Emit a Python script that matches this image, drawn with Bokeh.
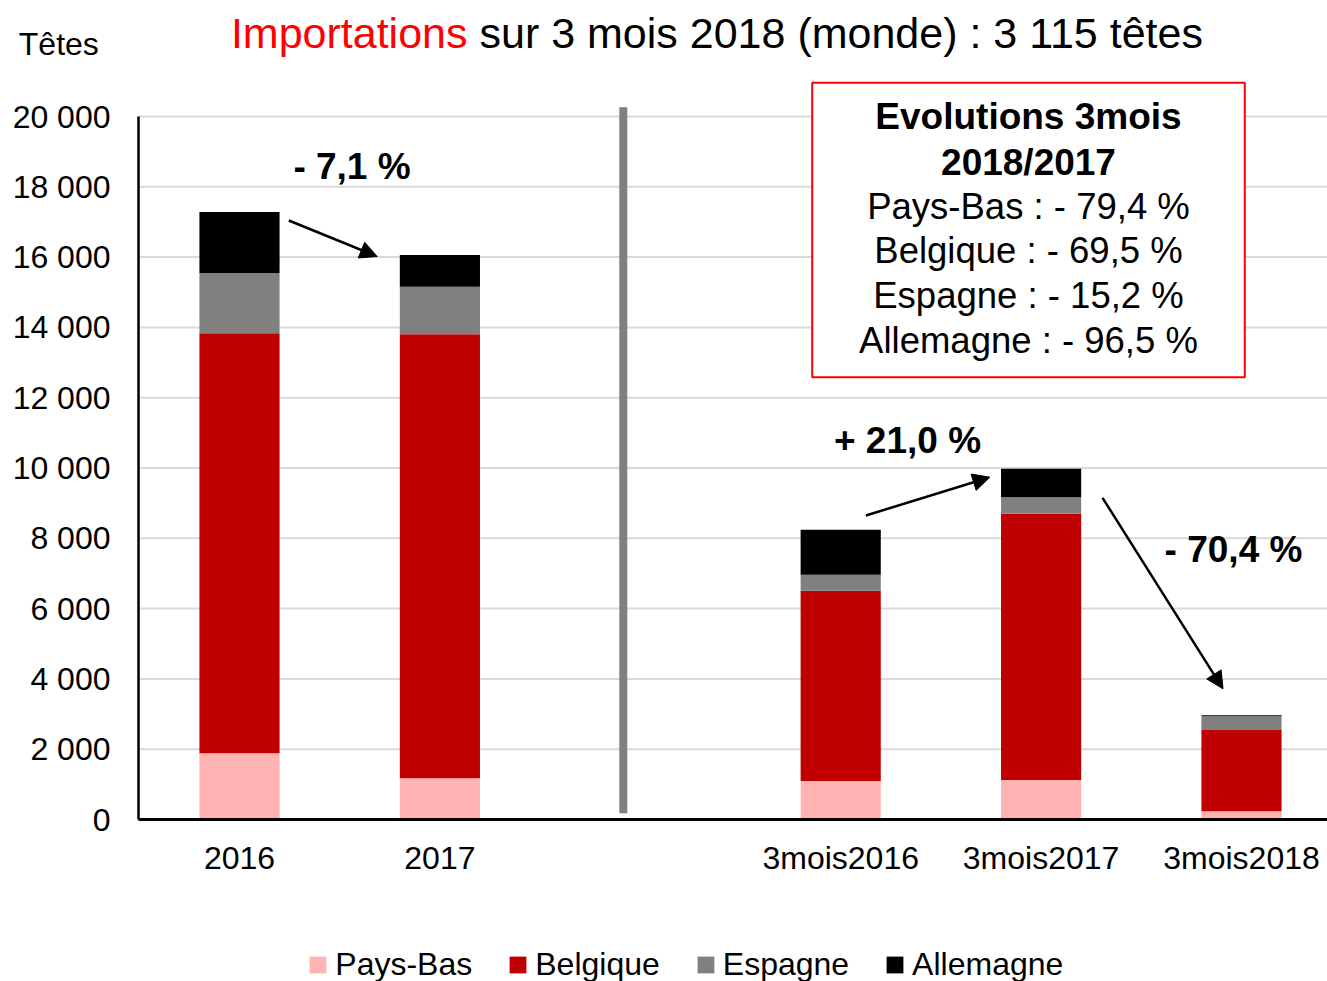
from bokeh.plotting import figure
from bokeh.models import (Range1d, FixedTicker, Label, Arrow, NormalHead, Legend,
                          LegendItem, BoxAnnotation, ColumnDataSource)
from bokeh.embed import file_html
from bokeh.resources import INLINE

# ---------------- data ----------------
categories = ["2016", "2017", "", "3mois2016", "3mois2017", "3mois2018"]
pays_bas = [1883, 1172, 0, 1095, 1124, 232]
belgique = [11949, 12632, 0, 5414, 7576, 2311]
espagne = [1716, 1354, 0, 455, 466, 395]
allemagne = [1735, 902, 0, 1278, 814, 28]
series_names = ["Pays-Bas", "Belgique", "Espagne", "Allemagne"]
series_colors = ["#FFB3B3", "#C00000", "#808080", "#000000"]

y_ticks = [0, 2000, 4000, 6000, 8000, 10000, 12000, 14000, 16000, 18000, 20000]
y_tick_labels = ["0", "2 000", "4 000", "6 000", "8 000", "10 000", "12 000",
                 "14 000", "16 000", "18 000", "20 000"]

title_red = "Importations"
title_black = "sur 3 mois 2018 (monde) : 3 115 têtes"
y_unit = "Têtes"
change_labels = ["- 7,1 %", "+ 21,0 %", "- 70,4 %"]
box_title = ["Evolutions 3mois", "2018/2017"]
box_lines = ["Pays-Bas : - 79,4 %", "Belgique : - 69,5 %",
             "Espagne : - 15,2 %", "Allemagne : - 96,5 %"]

FONT = "Liberation Sans"
W, H = 1327, 981

# ---------------- layout helpers (canvas pixels -> data) ----------------
PX_PER_X = 200.4      # pixels per category slot
X0_PX = 239.0         # pixel of first category centre
PX_PER_Y = 0.03515    # pixels per head
Y0_PX = 819.0         # pixel of value 0


def px2x(px):
    return (px - X0_PX) / PX_PER_X


def px2y(py):
    return (Y0_PX - py) / PX_PER_Y


def text_y(baseline_px, size_px):
    # labels are placed by their middle; shift from the wanted baseline
    return px2y(baseline_px - 0.36 * size_px)


idx = [i for i, c in enumerate(categories) if c]
source = ColumnDataSource(dict(
    x=idx,
    **{"Pays-Bas": [pays_bas[i] for i in idx],
       "Belgique": [belgique[i] for i in idx],
       "Espagne": [espagne[i] for i in idx],
       "Allemagne": [allemagne[i] for i in idx]}))

p = figure(width=W, height=H, output_backend="svg", toolbar_location=None,
           x_range=Range1d(px2x(0), px2x(W)), y_range=Range1d(px2y(H), px2y(0)),
           min_border_left=0, min_border_right=0, min_border_top=0,
           min_border_bottom=0)
p.outline_line_color = None
p.background_fill_color = "white"
p.border_fill_color = "white"
p.xgrid.visible = False
p.ygrid.visible = False

x_axis_start, x_axis_end = px2x(138), px2x(W)

# horizontal grid lines
p.segment(x0=[x_axis_start] * len(y_ticks), x1=[x_axis_end] * len(y_ticks),
          y0=y_ticks, y1=y_ticks, line_color="#D9D9D9", line_width=2)

renderers = p.vbar_stack(series_names, x="x", width=0.4, source=source,
                         fill_color=series_colors, line_color=None)

# axes (fixed inside the frame)
p.xaxis.fixed_location = 0
p.xaxis.bounds = (x_axis_start, x_axis_end)
p.yaxis.fixed_location = x_axis_start
p.yaxis.bounds = (0, 20000)
p.xaxis.ticker = FixedTicker(ticks=idx)
p.xaxis.major_label_overrides = {i: categories[i] for i in idx}
p.yaxis.ticker = FixedTicker(ticks=y_ticks)
p.yaxis.major_label_overrides = {t: l for t, l in zip(y_ticks, y_tick_labels)}
for ax in (p.xaxis, p.yaxis):
    ax.major_tick_out = 0
    ax.major_tick_in = 0
    ax.minor_tick_out = 0
    ax.minor_tick_in = 0
    ax.axis_line_color = "black"
    ax.major_label_text_font = FONT
    ax.major_label_text_color = "black"
p.xaxis.axis_line_width = 3
p.yaxis.axis_line_width = 2.5
p.xaxis.major_label_text_font_size = "32px"
p.yaxis.major_label_text_font_size = "32px"
p.xaxis.major_label_standoff = 20
p.yaxis.major_label_standoff = 28

# separator
p.add_layout(Arrow(start=None, end=None, x_start=px2x(622.8), x_end=px2x(622.8),
                   y_start=px2y(106.7), y_end=px2y(812.7),
                   line_color="#808080", line_width=8))

# title and unit
p.add_layout(Label(x=px2x(467), y=text_y(47.7, 43), text=title_red, text_align="right",
                   text_baseline="middle", text_color="#FF0000",
                   text_font=FONT, text_font_size="43px"))
p.add_layout(Label(x=px2x(479), y=text_y(47.7, 43), text=title_black, text_align="left",
                   text_baseline="middle", text_color="black",
                   text_font=FONT, text_font_size="43px"))
p.add_layout(Label(x=px2x(18.3), y=text_y(55, 32), text=y_unit, text_align="left",
                   text_baseline="middle", text_color="black",
                   text_font=FONT, text_font_size="32px"))

# arrows
arrows = [((288.3, 220), (376.7, 256)),
          ((865.4, 515), (989.4, 476.7)),
          ((1102, 497.3), (1222.5, 688.3))]
for (sx, sy), (ex, ey) in arrows:
    p.add_layout(Arrow(end=NormalHead(size=17, fill_color="black", line_color="black"),
                       x_start=px2x(sx), y_start=px2y(sy), x_end=px2x(ex), y_end=px2y(ey),
                       line_color="black", line_width=2.5))

change_pos = [(351.5, 179), (907, 453), (1233, 562.7)]
for txt, (cx, by) in zip(change_labels, change_pos):
    p.add_layout(Label(x=px2x(cx), y=text_y(by, 37), text=txt, text_align="center",
                       text_baseline="middle", text_color="black",
                       text_font=FONT, text_font_size="37px", text_font_style="bold"))

# box
p.add_layout(BoxAnnotation(left=px2x(811.7), right=px2x(1244.3),
                           top=px2y(82.3), bottom=px2y(376.7),
                           fill_color="white", fill_alpha=1,
                           line_color="#FF0000", line_width=2, line_alpha=1))
box_baselines_bold = [129.3, 175]
box_baselines = [219, 263.3, 308.3, 352.7]
for txt, by in zip(box_title, box_baselines_bold):
    p.add_layout(Label(x=px2x(1028), y=text_y(by, 37), text=txt, text_align="center",
                       text_baseline="middle", text_color="black",
                       text_font=FONT, text_font_size="37px", text_font_style="bold"))
for txt, by in zip(box_lines, box_baselines):
    p.add_layout(Label(x=px2x(1028), y=text_y(by, 36.5), text=txt, text_align="center",
                       text_baseline="middle", text_color="black",
                       text_font=FONT, text_font_size="36.5px"))

# legend
items = [LegendItem(label=n, renderers=[r]) for n, r in zip(series_names, renderers)]
legend = Legend(items=items, orientation="horizontal", location=(307.3, -2),
                padding=0, margin=0, spacing=35, glyph_width=21, glyph_height=21,
                label_standoff=7, label_text_font=FONT, label_text_font_size="32px",
                label_text_color="black", border_line_color=None,
                background_fill_alpha=0)
p.add_layout(legend)

open("out.html", "w").write(file_html(p, INLINE))
